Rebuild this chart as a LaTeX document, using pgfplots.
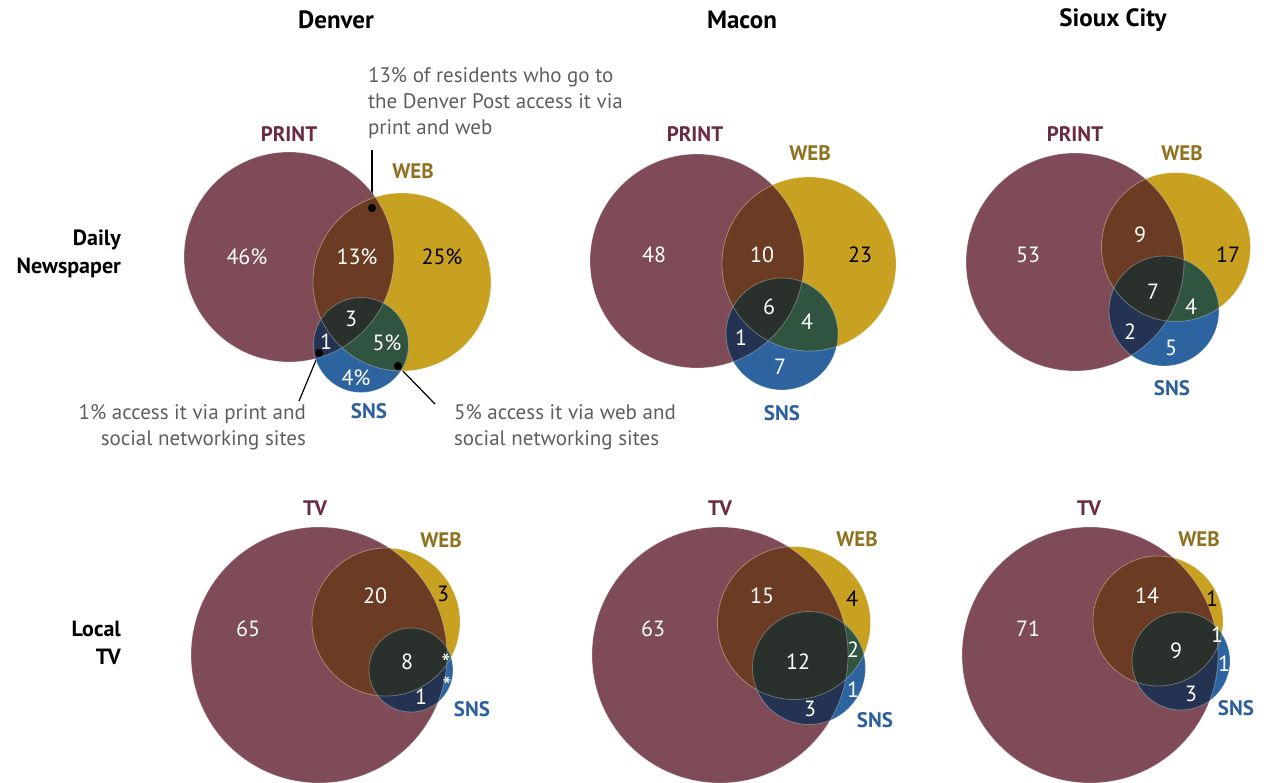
\documentclass[border=0pt]{standalone}
\usepackage{pgfplots}
\pgfplotsset{compat=1.18}
\usepackage{pgfplotstable}
\usepackage{fontspec}
\setmainfont{PT Sans}

\definecolor{cPrint}{HTML}{7F4B57}
\definecolor{cWeb}{HTML}{C9A121}
\definecolor{cSns}{HTML}{2D64A0}
\definecolor{cPW}{HTML}{6B3C23}
\definecolor{cPS}{HTML}{243352}
\definecolor{cWS}{HTML}{315440}
\definecolor{cPWS}{HTML}{2A302C}
\definecolor{lPrint}{HTML}{6B2A42}
\definecolor{lWeb}{HTML}{8E7220}
\definecolor{lSns}{HTML}{2C5F9C}
\definecolor{note}{HTML}{5E5E5E}

% circles: centre and radius of print/TV (p), web (w), SNS (s), in px, y down
\pgfplotstableread{
px   py  pr   wx   wy  wr   sx   sy  sr
289  257 105  402  282 89   361  345 47.5
697  261 107  809  264 87   782  334 56
1075 262 109  1176 247 74.5 1164 311 55
319  655 128  386  622 74   411  670 42
720  655 128  794  623 76.5 809  668 56.5
1090 655 128  1158 621 65   1181 661 49
}\circles

\pgfplotstableread{
x    y   lab
247  257 46\%
357  257 13\%
351  319 3
326  342 1
387  343 5\%
356  378 4\%
654  255 48
762  255 10
769  307 6
807  322 4
741  338 1
780  367 7
1028 255 53
1140 235 9
1153 292 7
1191 307 4
1130 332 2
1171 348 5
248  629 65
375  596 20
407  662 8
421  697 1
653  629 63
762  596 15
798  662 12
853  650 2
853  690 1
810  709 3
1028 629 71
1147 596 14
1217 635 1
1176 651 9
1224 664 1
1191 694 3
}\whitelabs

\pgfplotstableread{
x    y   lab
446  663 *
447  686 *
}\starlabs

\pgfplotstableread{
x    y   lab
442  257 25\%
860  255 23
1228 255 17
443  594 3
852  599 4
1212 599 1
}\blacklabs

\newcommand\setgeo{%
  \pgfmathsetmacro\rP{\vPr/2}%
  \pgfmathsetmacro\rW{\vWr/2}%
  \pgfmathsetmacro\rS{\vSr/2}%
  \pgfmathsetmacro\xW{\vWx/2}%
  \pgfmathsetmacro\yW{\vWy/2}%
  \pgfmathsetmacro\xS{\vSx/2}%
  \pgfmathsetmacro\yS{\vSy/2}}
\newcommand\pathP{\pgfpathcircle{\pgfpointorigin}{\rP pt}}
\newcommand\pathW{\pgfpathcircle{\pgfqpoint{\xW pt}{\yW pt}}{\rW pt}}
\newcommand\pathS{\pgfpathcircle{\pgfqpoint{\xS pt}{\yS pt}}{\rS pt}}

\pgfdeclareplotmark{mP}{\setgeo\pathP\pgfusepath{fill}}
\pgfdeclareplotmark{mW}{\setgeo\pathW\pgfusepath{fill}}
\pgfdeclareplotmark{mS}{\setgeo\pathS\pgfusepath{fill}}
\pgfdeclareplotmark{mPW}{\setgeo\pgfscope\pathP\pgfusepath{clip}\pathW\pgfusepath{fill}\endpgfscope}
\pgfdeclareplotmark{mPS}{\setgeo\pgfscope\pathP\pgfusepath{clip}\pathS\pgfusepath{fill}\endpgfscope}
\pgfdeclareplotmark{mWS}{\setgeo\pgfscope\pathW\pgfusepath{clip}\pathS\pgfusepath{fill}\endpgfscope}
\pgfdeclareplotmark{mPWS}{\setgeo\pgfscope\pathP\pgfusepath{clip}\pathW\pgfusepath{clip}\pathS\pgfusepath{fill}\endpgfscope}
\pgfdeclareplotmark{mRing}{\setgeo\pathP\pathW\pathS\pgfusepath{stroke}}

\pgfplotsset{
  venn/.style={scatter, only marks, mark=#1,
    scatter/@pre marker code/.code={\pgfscope},
    scatter/@post marker code/.code={\endpgfscope},
    visualization depends on={\thisrow{pr} \as \vPr},
    visualization depends on={\thisrow{wx}-\thisrow{px} \as \vWx},
    visualization depends on={\thisrow{py}-\thisrow{wy} \as \vWy},
    visualization depends on={\thisrow{wr} \as \vWr},
    visualization depends on={\thisrow{sx}-\thisrow{px} \as \vSx},
    visualization depends on={\thisrow{py}-\thisrow{sy} \as \vSy},
    visualization depends on={\thisrow{sr} \as \vSr}},
  labs/.style={only marks, mark=none, nodes near coords,
    point meta=explicit symbolic,
    nodes near coords style={text=#1, anchor=center, inner sep=0pt,
      font=\fontsize{11}{12}\selectfont}}
}

\newcommand\titlefont{\fontsize{12.5}{15}\selectfont\bfseries}
\newcommand\rowfont{\fontsize{11}{13}\selectfont\bfseries}
\newcommand\catfont{\fontsize{10.5}{12}\selectfont\bfseries}
\newcommand\notefont{\fontsize{10.5}{13}\selectfont}

\begin{document}
\begin{tikzpicture}
\begin{axis}[
    width=632pt, height=391pt, scale only axis,
    xmin=0, xmax=1264, ymin=0, ymax=782,
    y dir=reverse, hide axis, clip=false,
]

\addplot[venn=mP, color=cPrint] table[x=px, y=py] {\circles};
\addplot[venn=mW, color=cWeb] table[x=px, y=py] {\circles};
\addplot[venn=mS, color=cSns] table[x=px, y=py] {\circles};
\addplot[venn=mPW, color=cPW] table[x=px, y=py] {\circles};
\addplot[venn=mPS, color=cPS] table[x=px, y=py] {\circles};
\addplot[venn=mWS, color=cWS] table[x=px, y=py] {\circles};
\addplot[venn=mPWS, color=cPWS] table[x=px, y=py] {\circles};
\addplot[venn=mRing, draw=white, draw opacity=0.3, line width=0.4pt] table[x=px, y=py] {\circles};

\addplot[labs=white] table[x=x, y=y, meta=lab] {\whitelabs};
\addplot[labs=black] table[x=x, y=y, meta=lab] {\blacklabs};
\addplot[labs=white, nodes near coords style={font=\fontsize{13}{13}\selectfont}] table[x=x, y=y, meta=lab] {\starlabs};

% leader lines of the call-outs
\addplot[black, line width=0.6pt, mark=*, mark size=1.7pt, mark indices={1}] coordinates {(372,208) (372,150)};
\addplot[black, line width=0.6pt, mark=*, mark size=1.7pt, mark indices={1}] coordinates {(319,353) (299,401)};
\addplot[black, line width=0.6pt, mark=*, mark size=1.7pt, mark indices={1}] coordinates {(398,366) (435,404)};

% column titles
\node[font=\titlefont] at (axis cs:336,20) {Denver};
\node[font=\titlefont] at (axis cs:742,20) {Macon};
\node[font=\titlefont] at (axis cs:1113,20) {Sioux City};

% row labels
\node[font=\rowfont, anchor=base east] at (axis cs:128,245) {Daily};
\node[font=\rowfont, anchor=base east] at (axis cs:128,273) {Newspaper};
\node[font=\rowfont, anchor=base east] at (axis cs:128,636) {Local};
\node[font=\rowfont, anchor=base east] at (axis cs:128,664) {TV};

% circle names, newspaper row
\node[font=\catfont, text=lPrint] at (axis cs:289,134) {PRINT};
\node[font=\catfont, text=lWeb] at (axis cs:413,171) {WEB};
\node[font=\catfont, text=lSns] at (axis cs:369,411) {SNS};
\node[font=\catfont, text=lPrint] at (axis cs:695,134) {PRINT};
\node[font=\catfont, text=lWeb] at (axis cs:810,153) {WEB};
\node[font=\catfont, text=lSns] at (axis cs:782,413) {SNS};
\node[font=\catfont, text=lPrint] at (axis cs:1075,134) {PRINT};
\node[font=\catfont, text=lWeb] at (axis cs:1182,153) {WEB};
\node[font=\catfont, text=lSns] at (axis cs:1172,388) {SNS};
% circle names, TV row
\node[font=\catfont, text=lPrint] at (axis cs:315,508) {TV};
\node[font=\catfont, text=lWeb] at (axis cs:441,540) {WEB};
\node[font=\catfont, text=lSns] at (axis cs:472,709) {SNS};
\node[font=\catfont, text=lPrint] at (axis cs:720,508) {TV};
\node[font=\catfont, text=lWeb] at (axis cs:857,539) {WEB};
\node[font=\catfont, text=lSns] at (axis cs:875,720) {SNS};
\node[font=\catfont, text=lPrint] at (axis cs:1089,508) {TV};
\node[font=\catfont, text=lWeb] at (axis cs:1199,539) {WEB};
\node[font=\catfont, text=lSns] at (axis cs:1236,708) {SNS};

% call-out texts
\node[font=\notefont, text=note, anchor=base west] at (axis cs:361,82) {13\% of residents who go to};
\node[font=\notefont, text=note, anchor=base west] at (axis cs:361,108) {the Denver Post access it via};
\node[font=\notefont, text=note, anchor=base west] at (axis cs:361,134) {print and web};
\node[font=\notefont, text=note, anchor=base east] at (axis cs:313,419) {1\% access it via print and};
\node[font=\notefont, text=note, anchor=base east] at (axis cs:313,445) {social networking sites};
\node[font=\notefont, text=note, anchor=base west] at (axis cs:447,419) {5\% access it via web and};
\node[font=\notefont, text=note, anchor=base west] at (axis cs:447,445) {social networking sites};
\end{axis}
\pgfresetboundingbox
\useasboundingbox (current axis.south west) rectangle (current axis.north east);
\end{tikzpicture}
\end{document}
